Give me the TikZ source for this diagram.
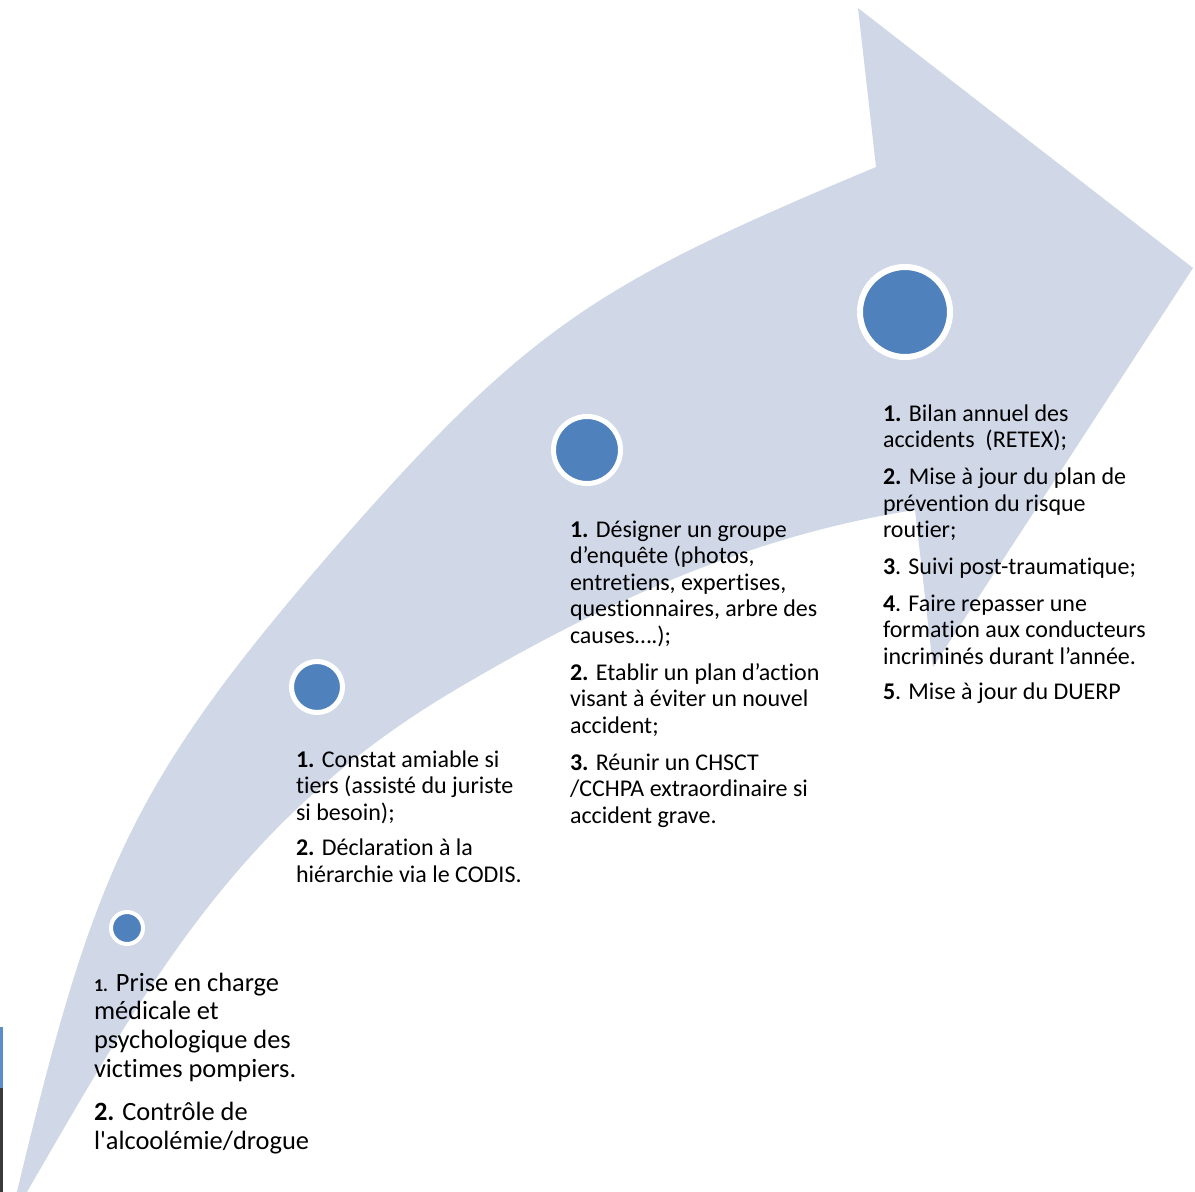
\documentclass[tikz,border=0pt]{standalone}
\usepackage{fontspec}
\setmainfont{Carlito}[Ligatures=NoCommon]
\definecolor{band}{HTML}{D0D8E8}
\definecolor{dotblue}{HTML}{4F81BD}
\definecolor{stripblue}{HTML}{5B8DC9}
\definecolor{stripgray}{HTML}{3A3A3A}
\begin{document}
\begin{tikzpicture}[x=1pt,y=-1pt,
  dot/.style={circle,fill=dotblue,draw=white,inner sep=0pt,outer sep=0pt},
  steptext/.style={anchor=base west,inner sep=0pt,outer sep=0pt,text=black,
    font=\fontsize{24}{26.5}\selectfont},
  firsttext/.style={steptext,font=\fontsize{26.4}{28.8}\selectfont}]
\useasboundingbox (0,0) rectangle (1195,1192);

% curved arrow band
\begin{scope}
  \clip (0,0) rectangle (1195,1192);
  \fill[band]
    (10,1221) .. controls (91,880) and (123,792) .. (333,550)
              .. controls (530,324) and (599,283) .. (876,167)
    -- (858,8) -- (1193,268) -- (933,667) -- (915,510)
              .. controls (747,536) and (596,606) .. (450,693)
              .. controls (227,827) and (141,997) .. (10,1221)
    -- cycle;
\end{scope}

% thin edge strip on the left border
\fill[stripblue] (0,1027) rectangle (2.5,1088);
\fill[stripgray] (0,1088) rectangle (2.5,1192);

% milestone dots
\node[dot, minimum size=32pt, line width=4pt] (c1) at (127,928) {};
\node[dot, minimum size=51pt, line width=5pt] (c2) at (317,687) {};
\node[dot, minimum size=67pt, line width=5pt] (c3) at (587,450) {};
\node[dot, minimum size=90pt, line width=6pt] (c4) at (905,312) {};

% step texts
\node[firsttext] (s1) at (94,991) {\begin{tabular}[t]{@{}l@{}}
{\fontsize{18}{20}\selectfont\textbf{1.}} Prise en charge\\
médicale et\\
psychologique des\\
victimes pompiers.\\[14pt]
\textbf{2.} Contrôle de\\
l\textquotesingle alcoolémie/drogue
\end{tabular}};

\node[steptext] (s2) at (296,767) {\begin{tabular}[t]{@{}l@{}}
\textbf{1.} Constat amiable si\\
tiers (assisté du juriste\\
si besoin);\\[9pt]
\textbf{2.} Déclaration à la\\
hiérarchie via le CODIS.
\end{tabular}};

\node[steptext] (s3) at (570,537) {\begin{tabular}[t]{@{}l@{}}
\textbf{1.} Désigner un groupe\\
d’enquête (photos,\\
entretiens, expertises,\\
questionnaires, arbre des\\
causes….);\\[10.5pt]
\textbf{2.} Etablir un plan d’action\\
visant à éviter un nouvel\\
accident;\\[10.5pt]
\textbf{3.} Réunir un CHSCT\\
/CCHPA extraordinaire si\\
accident grave.
\end{tabular}};

\node[steptext] (s4) at (883,421) {\begin{tabular}[t]{@{}l@{}}
\textbf{1.} Bilan annuel des\\
accidents~ (RETEX);\\[10.5pt]
\textbf{2.} Mise à jour du plan de\\
prévention du risque\\
routier;\\[10pt]
\textbf{3}. Suivi post-traumatique;\\[10.5pt]
\textbf{4}. Faire repasser une\\
formation aux conducteurs\\
incriminés durant l’année.\\[9pt]
\textbf{5}. Mise à jour du DUERP
\end{tabular}};
\end{tikzpicture}
\end{document}
